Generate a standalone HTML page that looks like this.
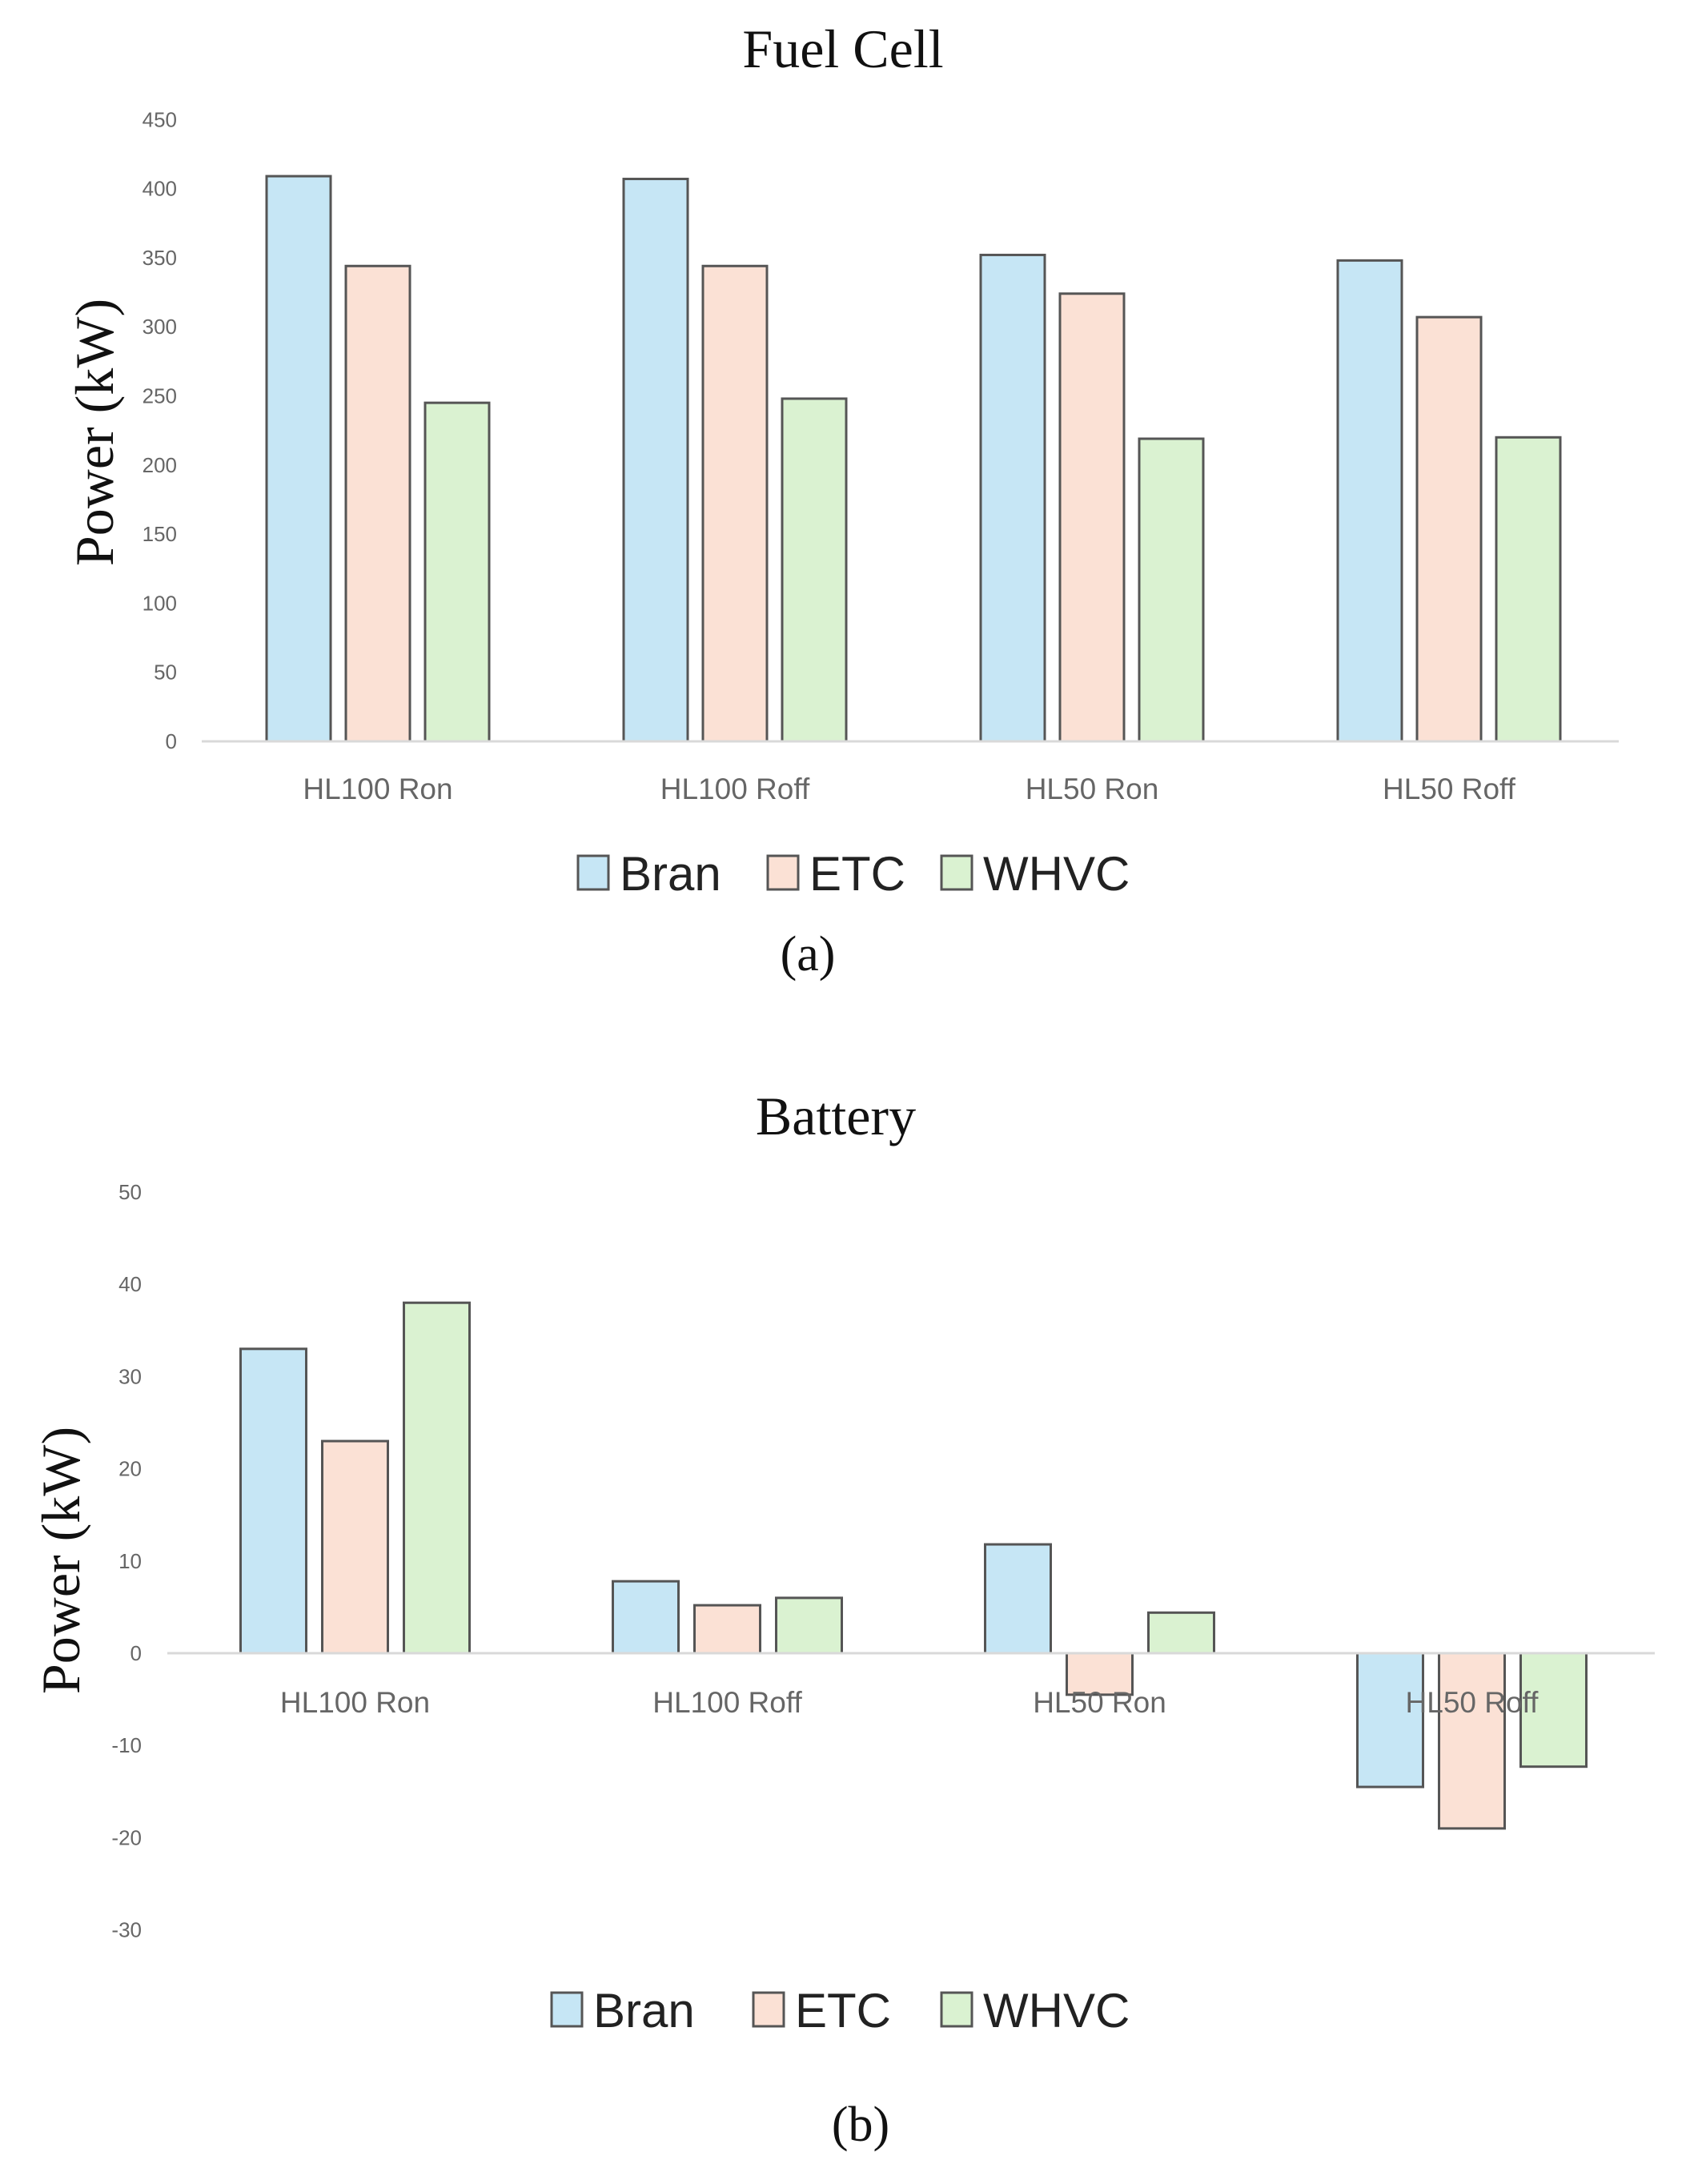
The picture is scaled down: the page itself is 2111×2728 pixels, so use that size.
<!DOCTYPE html>
<html><head><meta charset="utf-8"><style>
html,body{margin:0;padding:0;background:#fff}
svg{display:block}
.tick{font-family:"Liberation Sans Narrow","Liberation Sans",sans-serif;font-size:26px;fill:#666}
.cat{font-family:"Liberation Sans Narrow","Liberation Sans",sans-serif;font-size:37px;fill:#666}
.ttl{font-family:"Liberation Serif",serif;font-size:68px;fill:#111}
.leg{font-family:"Liberation Sans Narrow","Liberation Sans",sans-serif;font-size:60px;fill:#222}
</style></head><body>
<svg id="svg" width="2111" height="2728" viewBox="0 0 2111 2728" xmlns="http://www.w3.org/2000/svg">
<text class="ttl" x="1053" y="84" text-anchor="middle">Fuel Cell</text>
<text class="ttl" x="1044" y="1417" text-anchor="middle">Battery</text>
<text class="ttl" x="0" y="0" text-anchor="middle" transform="translate(141,540) rotate(-90)" style="font-size:68px">Power (kW)</text>
<text class="ttl" x="0" y="0" text-anchor="middle" transform="translate(99,1949) rotate(-90)" style="font-size:68px">Power (kW)</text>
<text class="ttl" x="1009" y="1212" text-anchor="middle" style="font-size:62px">(a)</text>
<text class="ttl" x="1075" y="2674" text-anchor="middle" style="font-size:62px">(b)</text>
</svg>
<script>
const categories=["HL100 Ron","HL100 Roff","HL50 Ron","HL50 Roff"];
const seriesNames=["Bran","ETC","WHVC"];
const fcBran=[409,407,352,348];
const fcETC=[344,344,324,307];
const fcWHVC=[245,248,219,220];
const fcTicks=[0,50,100,150,200,250,300,350,400,450];
const batBran=[33,7.8,11.8,-14.5];
const batETC=[23,5.2,-4.5,-19];
const batWHVC=[38,6,4.4,-12.3];
const batTicks=[-30,-20,-10,0,10,20,30,40,50];
const fills=["#c6e6f5","#fbe1d5","#daf2d1"];
const NS="http://www.w3.org/2000/svg";
const svg=document.getElementById('svg');
function mk(tag,attrs,text){const e=document.createElementNS(NS,tag);for(const k in attrs)e.setAttribute(k,attrs[k]);if(text!==undefined)e.textContent=text;svg.appendChild(e);return e;}
function chart(o){
  const y=v=>o.zeroY-(v/o.tickStep)*o.tickPx;
  const band=(o.x1-o.x0)/categories.length;
  o.ticks.forEach(t=>{
    const e=mk('text',{x:o.tickX,y:y(t)+9,'text-anchor':'end',class:'tick'},String(t));
    
    
  });
  const series=[o.s1,o.s2,o.s3];
  series.forEach((arr,si)=>{
    arr.forEach((v,ci)=>{
      const cx=o.x0+band*(ci+0.5)+(si-1)*o.step;
      const top=Math.min(y(v),o.zeroY),h=Math.abs(y(v)-o.zeroY);
      const r=mk('rect',{x:cx-o.bw/2,y:top,width:o.bw,height:h,fill:fills[si],stroke:'#555',"stroke-width":3});
      
      
    });
  });
  const ax=mk('line',{x1:o.ax0,x2:o.ax1,y1:o.zeroY,y2:o.zeroY,stroke:'#d9d9d9','stroke-width':3});
  
  
  categories.forEach((c,ci)=>{
    const e=mk('text',{x:o.x0+band*(ci+0.5),y:o.catY,'text-anchor':'middle',class:'cat'},c);
    
    
  });
  seriesNames.forEach((n,si)=>{
    const b=mk('rect',{x:o.legBox[si],y:o.legY-22,width:38,height:42,fill:fills[si],stroke:'#555','stroke-width':3});
    
    
    const t=mk('text',{x:o.legBox[si]+52,y:o.legY+21,class:'leg'},n);
    
    
  });
}
chart({id:'fuel-cell',zeroY:926,tickStep:50,tickPx:86.3,x0:249,x1:2033,ax0:252,ax1:2022,bw:80,step:99,tickX:221,catY:998,ticks:fcTicks,s1:fcBran,s2:fcETC,s3:fcWHVC,legY:1091,legBox:[722,959,1176]});
chart({id:'battery',zeroY:2065,tickStep:10,tickPx:115.2,x0:211,x1:2071,ax0:209,ax1:2067,bw:82,step:102,tickX:177,catY:2139,ticks:batTicks,s1:batBran,s2:batETC,s3:batWHVC,legY:2511,legBox:[689,941,1176]});
</script>
</body></html>
